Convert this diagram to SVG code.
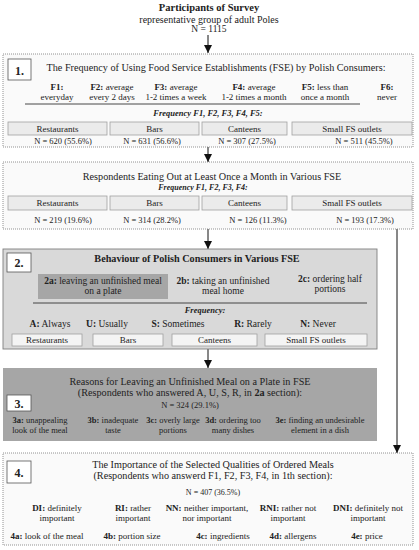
<svg xmlns="http://www.w3.org/2000/svg" width="419" height="550" viewBox="0 0 419 550">
<defs>
<style>
text{font-family:"Liberation Serif","Times New Roman",serif;fill:#222;text-anchor:middle}
.tt{font-size:10.2px}
.t95{font-size:9.5px}
.t9{font-size:9px}
.t85{font-size:8.5px}
.t8{font-size:8px}
.b{font-weight:bold}
.i{font-style:italic;font-weight:bold}
.dot{fill:#fafafa;stroke:#777;stroke-width:0.8;stroke-dasharray:1 1}
.cat{fill:#ebebeb;stroke:#a0a0a0;stroke-width:0.8}
.catw{fill:#f4f4f4;stroke:#a0a0a0;stroke-width:0.8}
.num{fill:#fff;stroke:#555;stroke-width:0.8}
.num-t{font-size:12px;font-weight:bold}
.rule{stroke:#333;stroke-width:0.9}
.conn{stroke:#111;stroke-width:1;fill:none}
</style>
<marker id="arrd" markerWidth="8" markerHeight="9" refX="8" refY="4" orient="auto" markerUnits="userSpaceOnUse" viewBox="0 0 8 8">
<path d="M0,0 L8,4 L0,8 Z" fill="#111"/>
</marker>
</defs>

<g id="participants">
<text x="209" y="11" style="font-size:10.5px" class="b">Participants of Survey</text>
<text x="209" y="23" style="font-size:10px">representative group of adult Poles</text>
<text x="209" y="32" style="font-size:9.5px">N = 1115</text>
</g>

<g id="connectors">
<line class="conn" x1="208" y1="35" x2="208" y2="53" marker-end="url(#arrd)"/>
<line class="conn" x1="208" y1="147" x2="208" y2="162" marker-end="url(#arrd)"/>
<line class="conn" x1="208" y1="229" x2="208" y2="249" marker-end="url(#arrd)"/>
<line class="conn" x1="208" y1="349" x2="208" y2="368" marker-end="url(#arrd)"/>
<line class="conn" x1="397" y1="229" x2="397" y2="453" marker-end="url(#arrd)"/>
</g>

<g id="section1">
<rect class="dot" x="3" y="54" width="410" height="93"/>
<rect class="num" x="8" y="59" width="23" height="21"/>
<text x="19.5" y="74.5" class="num-t">1.</text>
<text x="216" y="71" class="tt">The Frequency of Using Food Service Establishments (FSE) by Polish Consumers:</text>
<text x="57" y="90" class="t9"><tspan class="b">F1:</tspan></text>
<text x="57" y="100" class="t9">everyday</text>
<text x="112" y="90" class="t9"><tspan class="b">F2:</tspan> average</text>
<text x="112" y="100" class="t9">every 2 days</text>
<text x="176" y="90" class="t9"><tspan class="b">F3:</tspan> average</text>
<text x="176" y="100" class="t9">1-2 times a week</text>
<text x="254" y="90" class="t9"><tspan class="b">F4:</tspan> average</text>
<text x="254" y="100" class="t9">1-2 times a month</text>
<text x="325" y="90" class="t9"><tspan class="b">F5:</tspan> less than</text>
<text x="325" y="100" class="t9">once a month</text>
<text x="387" y="90" class="t9"><tspan class="b">F6:</tspan></text>
<text x="387" y="100" class="t9">never</text>
<line class="rule" x1="25" y1="104" x2="360" y2="104"/>
<text x="208" y="116" class="t85 i">Frequency F1, F2, F3, F4, F5:</text>
<rect class="cat" x="8" y="122" width="99" height="13"/>
<rect class="cat" x="110" y="122" width="89" height="13"/>
<rect class="cat" x="202" y="122" width="85" height="13"/>
<rect class="cat" x="292" y="122" width="120" height="13"/>
<text x="57.5" y="131.8" class="t9">Restaurants</text>
<text x="154.5" y="131.8" class="t9">Bars</text>
<text x="244.5" y="131.8" class="t9">Canteens</text>
<text x="352" y="131.8" class="t9">Small FS outlets</text>
<text x="63" y="143.5" class="t85">N = 620 (55.6%)</text>
<text x="152" y="143.5" class="t85">N = 631 (56.6%)</text>
<text x="247" y="143.5" class="t85">N = 307 (27.5%)</text>
<text x="364" y="143.5" class="t85">N = 511 (45.5%)</text>
</g>

<g id="eating-out">
<rect class="dot" x="3" y="162" width="410" height="67"/>
<text x="212" y="180" class="tt">Respondents Eating Out at Least Once a Month in Various FSE</text>
<text x="203" y="189.5" class="t8 i">Frequency F1, F2, F3, F4:</text>
<rect class="cat" x="8" y="196" width="99" height="14"/>
<rect class="cat" x="110" y="196" width="89" height="14"/>
<rect class="cat" x="202" y="196" width="85" height="14"/>
<rect class="cat" x="292" y="196" width="120" height="14"/>
<text x="57.5" y="206.3" class="t9">Restaurants</text>
<text x="154.5" y="206.3" class="t9">Bars</text>
<text x="244.5" y="206.3" class="t9">Canteens</text>
<text x="352" y="206.3" class="t9">Small FS outlets</text>
<text x="63" y="223" class="t85">N = 219 (19.6%)</text>
<text x="152" y="223" class="t85">N = 314 (28.2%)</text>
<text x="258" y="223" class="t85">N = 126 (11.3%)</text>
<text x="365" y="223" class="t85">N = 193 (17.3%)</text>
</g>

<g id="section2">
<rect x="3" y="249" width="374" height="100" fill="#d9d9d9" stroke="#7f7f7f" stroke-width="0.9"/>
<rect class="num" x="7" y="253" width="24" height="19"/>
<text x="19" y="267" class="num-t">2.</text>
<text x="197" y="261.5" class="tt b">Behaviour of Polish Consumers in Various FSE</text>
<rect x="38" y="274" width="130" height="25" fill="#a6a6a6"/>
<text x="103" y="283.5" class="t95"><tspan class="b">2a:</tspan> leaving an unfinished meal</text>
<text x="103" y="293.5" class="t95">on a plate</text>
<text x="223" y="283.5" class="t95"><tspan class="b">2b:</tspan> taking an unfinished</text>
<text x="223" y="293.5" class="t95">meal home</text>
<text x="330" y="281.5" class="t95"><tspan class="b">2c:</tspan> ordering half</text>
<text x="330" y="291.5" class="t95">portions</text>
<line class="rule" x1="33" y1="303" x2="367" y2="303"/>
<text x="205" y="312.5" class="t85 i">Frequency:</text>
<text x="50" y="326.5" class="t95"><tspan class="b">A:</tspan> Always</text>
<text x="107" y="326.5" class="t95"><tspan class="b">U:</tspan> Usually</text>
<text x="178" y="326.5" class="t95"><tspan class="b">S:</tspan> Sometimes</text>
<text x="253" y="326.5" class="t95"><tspan class="b">R:</tspan> Rarely</text>
<text x="318" y="326.5" class="t95"><tspan class="b">N:</tspan> Never</text>
<rect class="catw" x="12" y="334" width="70" height="12"/>
<rect class="catw" x="93" y="334" width="70" height="12"/>
<rect class="catw" x="172" y="334" width="85" height="12"/>
<rect class="catw" x="265" y="334" width="102" height="12"/>
<text x="47" y="343.3" class="t9">Restaurants</text>
<text x="128" y="343.3" class="t9">Bars</text>
<text x="214.5" y="343.3" class="t9">Canteens</text>
<text x="316" y="343.3" class="t9">Small FS outlets</text>
</g>

<g id="section3">
<rect x="3" y="368" width="374" height="73" fill="#a6a6a6"/>
<rect class="num" x="7" y="395" width="24" height="16"/>
<text x="19" y="407.5" class="num-t">3.</text>
<text x="190" y="385" class="tt">Reasons for Leaving an Unfinished Meal on a Plate in FSE</text>
<text x="190" y="395.5" class="tt">(Respondents who answered A, U, S, R, in <tspan class="b">2a</tspan> section):</text>
<text x="190" y="408" class="t85">N = 324 (29.1%)</text>
<text x="40" y="423" class="t85"><tspan class="b">3a:</tspan> unappealing</text>
<text x="40" y="433" class="t85">look of the meal</text>
<text x="113" y="423" class="t85"><tspan class="b">3b:</tspan> inadequate</text>
<text x="113" y="433" class="t85">taste</text>
<text x="173" y="423" class="t85"><tspan class="b">3c:</tspan> overly large</text>
<text x="173" y="433" class="t85">portions</text>
<text x="233" y="423" class="t85"><tspan class="b">3d:</tspan> ordering too</text>
<text x="233" y="433" class="t85">many dishes</text>
<text x="320" y="423" class="t85"><tspan class="b">3e:</tspan> finding an undesirable</text>
<text x="320" y="433" class="t85">element in a dish</text>
</g>

<g id="section4">
<rect class="dot" x="3" y="453" width="410" height="92"/>
<rect class="num" x="7" y="461" width="24" height="22"/>
<text x="19" y="476.5" class="num-t">4.</text>
<text x="213" y="468" class="tt">The Importance of the Selected Qualities of Ordered Meals</text>
<text x="213" y="478.5" class="tt">(Respondents who answerd F1, F2, F3, F4, in 1th section):</text>
<text x="213" y="495" class="t8">N = 407 (36.5%)</text>
<text x="57" y="511" class="t9"><tspan class="b">DI:</tspan> definitely</text>
<text x="57" y="521" class="t9">important</text>
<text x="133" y="511" class="t9"><tspan class="b">RI:</tspan> rather</text>
<text x="133" y="521" class="t9">important</text>
<text x="207" y="511" class="t9"><tspan class="b">NN:</tspan> neither important,</text>
<text x="207" y="521" class="t9">nor important</text>
<text x="288" y="511" class="t9"><tspan class="b">RNI:</tspan> rather not</text>
<text x="288" y="521" class="t9">important</text>
<text x="368" y="511" class="t9"><tspan class="b">DNI:</tspan> definitely not</text>
<text x="368" y="521" class="t9">important</text>
<text x="47" y="538.5" class="t9"><tspan class="b">4a:</tspan> look of the meal</text>
<text x="132" y="538.5" class="t9"><tspan class="b">4b:</tspan> portion size</text>
<text x="223" y="538.5" class="t9"><tspan class="b">4c:</tspan> ingredients</text>
<text x="293" y="538.5" class="t9"><tspan class="b">4d:</tspan> allergens</text>
<text x="367" y="538.5" class="t9"><tspan class="b">4e:</tspan> price</text>
</g>
</svg>
